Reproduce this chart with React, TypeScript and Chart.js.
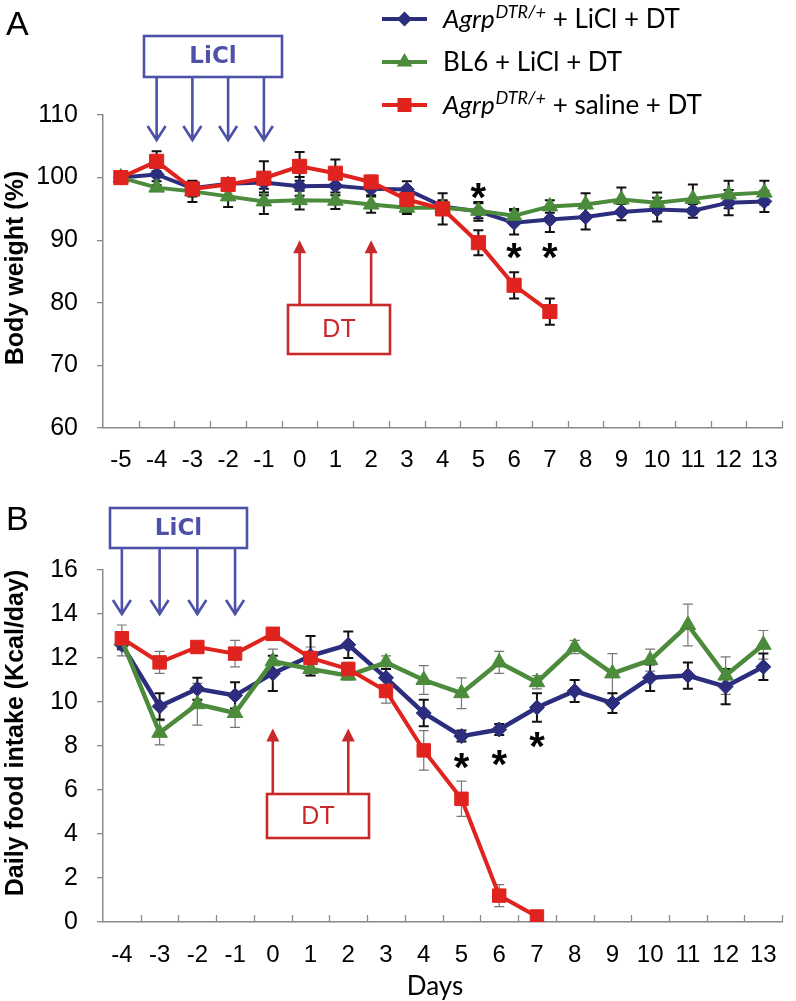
import React, { useEffect, useRef } from "react";
import { Chart, registerables } from "chart.js";

Chart.register(...registerables);

// ---------- Panel A: body weight ----------
const daysA = ["-5", "-4", "-3", "-2", "-1", "0", "1", "2", "3", "4", "5", "6", "7", "8", "9", "10", "11", "12", "13"];
const weightAgrpLiCl = [100, 100.5, 98.3, 99.0, 99.2, 98.6, 98.7, 98.2, 98.1, 95.4, 94.6, 92.8, 93.3, 93.7, 94.5, 94.9, 94.7, 96.0, 96.2];
const weightAgrpLiClErr = [0, 1.1, 1.0, 0.6, 1.6, 1.5, 1.5, 1.0, 1.3, 1.0, 1.5, 1.9, 2.0, 2.0, 1.3, 1.9, 1.1, 2.0, 1.7];
const weightBL6LiCl = [100, 98.4, 97.8, 97.0, 96.2, 96.4, 96.3, 95.7, 95.2, 95.2, 94.7, 93.9, 95.4, 95.7, 96.5, 96.0, 96.6, 97.3, 97.6];
const weightBL6LiClErr = [0, 0.4, 1.7, 1.7, 2.0, 1.5, 1.3, 1.3, 1.0, 1.0, 1.2, 1.1, 1.0, 1.8, 1.9, 1.6, 2.3, 2.2, 1.9];
const weightAgrpSaline = [100, 102.6, 98.2, 98.9, 99.9, 101.8, 100.7, 99.3, 96.5, 95.0, 89.6, 82.8, 78.6, null, null, null, null, null, null];
const weightAgrpSalineErr = [0, 1.6, 1.2, 0.4, 2.7, 2.3, 2.2, 1.0, 2.0, 2.5, 2.0, 2.1, 2.1, 0, 0, 0, 0, 0, 0];
const weightTicks = [60, 70, 80, 90, 100, 110];
const starsA = [{ day: "5", value: 98.4 }, { day: "6", value: 88.8 }, { day: "7", value: 88.8 }];

// ---------- Panel B: daily food intake ----------
const daysB = ["-4", "-3", "-2", "-1", "0", "1", "2", "3", "4", "5", "6", "7", "8", "9", "10", "11", "12", "13"];
const foodAgrpLiCl = [12.6, 9.8, 10.6, 10.3, 11.3, 12.1, 12.6, 11.1, 9.5, 8.45, 8.75, 9.75, 10.5, 9.95, 11.1, 11.2, 10.7, 11.6];
const foodAgrpLiClErr = [0.2, 0.6, 0.5, 0.6, 0.8, 0.9, 0.6, 0.4, 0.6, 0.25, 0.25, 0.65, 0.5, 0.45, 0.6, 0.6, 0.8, 0.6];
const foodBL6LiCl = [12.8, 8.6, 9.9, 9.5, 11.85, 11.5, 11.2, 11.8, 11.0, 10.4, 11.8, 10.9, 12.5, 11.3, 11.9, 13.5, 11.2, 12.6];
const foodBL6LiClErr = [0.7, 0.55, 0.95, 0.65, 0.55, 0.3, 0.2, 0.3, 0.65, 0.7, 0.5, 0.3, 0.3, 0.9, 0.5, 0.95, 0.85, 0.65];
const foodAgrpSaline = [12.9, 11.8, 12.5, 12.2, 13.1, 12.0, 11.5, 10.5, 7.8, 5.6, 1.2, 0.25, null, null, null, null, null, null];
const foodAgrpSalineErr = [0.3, 0.5, 0.2, 0.6, 0.2, 0.5, 0.3, 0.55, 0.9, 0.8, 0.5, 0.1, 0, 0, 0, 0, 0, 0];
const foodTicks = [0, 2, 4, 6, 8, 10, 12, 14, 16];
const starsB = [{ day: "5", value: 7.45 }, { day: "6", value: 7.6 }, { day: "7", value: 8.4 }];

// ---------- annotations ----------
const liclDays = ["-4", "-3", "-2", "-1"];
const dtDays = ["0", "2"];
const seriesLabels = ["Agrp|DTR/+| + LiCl + DT", "|| BL6 + LiCl + DT", "Agrp|DTR/+| + saline + DT"];

const AXIS = "#8a8a8a";
const NAVY = "#2c2e7d";
const GREEN = "#4b8b3b";
const RED = "#e0231e";
const LICL = "#4d51a8";
const DTRED = "#c8292b";
const TICK_FONT = "'Liberation Sans', Arial, sans-serif";
const LEG_FONT = "Lato, 'Open Sans', sans-serif";

function drawErrorBars(chart: any, cap: number) {
  const ctx = chart.ctx;
  const y = chart.scales.y;
  chart.data.datasets.forEach((d: any, i: number) => {
    if (!d.errors) return;
    const meta = chart.getDatasetMeta(i);
    ctx.save();
    ctx.strokeStyle = d.errColor;
    ctx.lineWidth = d.errWidth;
    meta.data.forEach((pt: any, j: number) => {
      const v = d.data[j];
      const e = d.errors[j];
      if (v == null || !e) return;
      const yt = y.getPixelForValue(v + e);
      const yb = y.getPixelForValue(v - e);
      ctx.beginPath();
      ctx.moveTo(pt.x, yt);
      ctx.lineTo(pt.x, yb);
      ctx.moveTo(pt.x - cap, yt);
      ctx.lineTo(pt.x + cap, yt);
      ctx.moveTo(pt.x - cap, yb);
      ctx.lineTo(pt.x + cap, yb);
      ctx.stroke();
    });
    ctx.restore();
  });
}

function drawXTicks(chart: any, len: number) {
  const x = chart.scales.x;
  const ctx = chart.ctx;
  const n = x.ticks.length;
  const w = (x.right - x.left) / n;
  ctx.save();
  ctx.strokeStyle = AXIS;
  ctx.lineWidth = 1.3;
  for (let k = 1; k <= n; k++) {
    const px = Math.round(x.getPixelForTick(k - 1) + w / 2) + 0.5;
    ctx.beginPath();
    ctx.moveTo(px, x.top);
    ctx.lineTo(px, x.top - len);
    ctx.stroke();
  }
  ctx.restore();
}

function arrowDownOpen(ctx: any, x: number, y0: number, y1: number, color: string) {
  ctx.save();
  ctx.strokeStyle = color;
  ctx.lineWidth = 2.6;
  ctx.beginPath();
  ctx.moveTo(x, y0);
  ctx.lineTo(x, y1);
  ctx.moveTo(x - 9, y1 - 14);
  ctx.lineTo(x, y1);
  ctx.lineTo(x + 9, y1 - 14);
  ctx.stroke();
  ctx.restore();
}

function arrowUpFilled(ctx: any, x: number, y0: number, y1: number, color: string) {
  ctx.save();
  ctx.strokeStyle = color;
  ctx.fillStyle = color;
  ctx.lineWidth = 2.6;
  ctx.beginPath();
  ctx.moveTo(x, y0);
  ctx.lineTo(x, y1 + 10);
  ctx.stroke();
  ctx.beginPath();
  ctx.moveTo(x, y1);
  ctx.lineTo(x - 6.5, y1 + 13);
  ctx.lineTo(x + 6.5, y1 + 13);
  ctx.closePath();
  ctx.fill();
  ctx.restore();
}

function drawBox(ctx: any, x: number, y: number, w: number, h: number, color: string, text: string, font: string) {
  ctx.save();
  ctx.strokeStyle = color;
  ctx.lineWidth = 2.6;
  ctx.strokeRect(x, y, w, h);
  ctx.fillStyle = color;
  ctx.font = font;
  ctx.textAlign = "center";
  ctx.textBaseline = "middle";
  ctx.fillText(text, x + w / 2, y + h / 2 + 1);
  ctx.restore();
}

function drawStars(chart: any, stars: { day: string; value: number }[], labels: string[]) {
  const ctx = chart.ctx;
  const x = chart.scales.x;
  const y = chart.scales.y;
  ctx.save();
  ctx.fillStyle = "#000";
  ctx.font = `bold 40px ${TICK_FONT}`;
  ctx.textAlign = "center";
  ctx.textBaseline = "alphabetic";
  stars.forEach((s) => {
    const px = x.getPixelForTick(labels.indexOf(s.day));
    const py = y.getPixelForValue(s.value);
    ctx.fillText("*", px, py + 23);
  });
  ctx.restore();
}

function drawYTitle(ctx: any, text: string, cx: number, cy: number) {
  ctx.save();
  ctx.translate(cx, cy);
  ctx.rotate(-Math.PI / 2);
  ctx.fillStyle = "#000";
  ctx.font = `bold 25px ${TICK_FONT}`;
  ctx.textAlign = "center";
  ctx.textBaseline = "middle";
  ctx.fillText(text, 0, 0);
  ctx.restore();
}

function drawMarker(ctx: any, kind: string, x: number, y: number, color: string) {
  ctx.save();
  ctx.fillStyle = color;
  ctx.beginPath();
  if (kind === "diamond") {
    const r = 7.5;
    ctx.moveTo(x, y - r);
    ctx.lineTo(x + r, y);
    ctx.lineTo(x, y + r);
    ctx.lineTo(x - r, y);
  } else if (kind === "triangle") {
    const r = 9;
    ctx.moveTo(x, y - r);
    ctx.lineTo(x + r * 0.866, y + r * 0.5);
    ctx.lineTo(x - r * 0.866, y + r * 0.5);
  } else {
    const s = 7;
    ctx.rect(x - s, y - s, 2 * s, 2 * s);
  }
  ctx.closePath();
  ctx.fill();
  ctx.restore();
}

function drawLegend(ctx: any) {
  const rows = [
    { y: 19, color: NAVY, kind: "diamond", label: seriesLabels[0] },
    { y: 62, color: GREEN, kind: "triangle", label: seriesLabels[1] },
    { y: 105, color: RED, kind: "square", label: seriesLabels[2] },
  ];
  rows.forEach((r) => {
    ctx.save();
    ctx.strokeStyle = r.color;
    ctx.lineWidth = 4;
    ctx.beginPath();
    ctx.moveTo(382, r.y);
    ctx.lineTo(427, r.y);
    ctx.stroke();
    ctx.restore();
    drawMarker(ctx, r.kind, 404.5, r.y, r.color);
    const [ital, sup, rest] = r.label.split("|");
    let tx = 443;
    const base = r.y + 9;
    ctx.save();
    ctx.fillStyle = "#000";
    ctx.textBaseline = "alphabetic";
    ctx.textAlign = "left";
    if (ital) {
      ctx.font = `italic 26px ${LEG_FONT}`;
      ctx.fillText(ital, tx, base);
      tx += ctx.measureText(ital).width + 1;
      ctx.font = `italic 18px ${LEG_FONT}`;
      ctx.fillText(sup, tx, base - 10);
      tx += ctx.measureText(sup).width;
      ctx.font = `26px ${LEG_FONT}`;
      ctx.fillText(rest, tx, base);
    } else {
      ctx.font = `26px ${LEG_FONT}`;
      ctx.fillText(rest.trim(), tx, base);
    }
    ctx.restore();
  });
}

function dataset(label: string, data: (number | null)[], errors: number[], color: string, style: string, radius: number, lw: number, errColor: string, errWidth: number) {
  return {
    label,
    data,
    errors,
    errColor,
    errWidth,
    borderColor: color,
    backgroundColor: color,
    pointStyle: style,
    pointRadius: radius,
    pointHoverRadius: radius,
    pointBackgroundColor: color,
    pointBorderColor: color,
    pointBorderWidth: 1,
    borderWidth: lw,
    tension: 0,
    spanGaps: false,
  } as any;
}

function axisOptions(labels: string[], tickValues: number[], min: number, max: number, xHeight: number, xPad: number) {
  return {
    x: {
      type: "category" as const,
      labels,
      offset: true,
      grid: { display: false, drawTicks: false },
      border: { display: true, color: AXIS, width: 1.5 },
      ticks: { color: "#000", font: { family: TICK_FONT, size: 24 }, padding: xPad, maxRotation: 0, autoSkip: false },
      afterFit: (s: any) => {
        s.height = xHeight;
      },
    },
    y: {
      min,
      max,
      grid: { drawOnChartArea: false, drawTicks: true, tickLength: 6, color: AXIS, lineWidth: 1.3 },
      border: { display: true, color: AXIS, width: 1.5 },
      ticks: { color: "#000", font: { family: TICK_FONT, size: 25 }, padding: 19 },
      afterBuildTicks: (s: any) => {
        s.ticks = tickValues.map((v) => ({ value: v }));
      },
      afterFit: (s: any) => {
        s.width = 103;
      },
    },
  };
}

export default function App() {
  const refA = useRef<HTMLCanvasElement>(null);
  const refB = useRef<HTMLCanvasElement>(null);

  useEffect(() => {
    const pluginA = {
      id: "annotA",
      beforeDatasetsDraw(chart: any) {
        drawXTicks(chart, 7);
        drawErrorBars(chart, 5);
      },
      afterDraw(chart: any) {
        const ctx = chart.ctx;
        const x = chart.scales.x;
        const y = chart.scales.y;
        ctx.save();
        ctx.fillStyle = "#000";
        ctx.font = `34px ${TICK_FONT}`;
        ctx.textBaseline = "alphabetic";
        ctx.fillText("A", 6, 35);
        ctx.restore();
        drawYTitle(ctx, "Body weight (%)", 16, 268);
        drawBox(ctx, 144, 36, 138, 41, LICL, "LiCl", `bold 23px 'DejaVu Sans', sans-serif`);
        liclDays.forEach((d) => arrowDownOpen(ctx, x.getPixelForTick(daysA.indexOf(d)), 77, y.getPixelForValue(106), LICL));
        drawBox(ctx, 288, 305, 102, 49, DTRED, "DT", `25px ${TICK_FONT}`);
        dtDays.forEach((d) => arrowUpFilled(ctx, x.getPixelForTick(daysA.indexOf(d)), 305, y.getPixelForValue(90), DTRED));
        drawStars(chart, starsA, daysA);
        drawLegend(ctx);
      },
    };

    const pluginB = {
      id: "annotB",
      beforeDatasetsDraw(chart: any) {
        drawXTicks(chart, 7);
        drawErrorBars(chart, 5);
      },
      afterDraw(chart: any) {
        const ctx = chart.ctx;
        const x = chart.scales.x;
        const y = chart.scales.y;
        ctx.save();
        ctx.fillStyle = "#000";
        ctx.font = `34px ${TICK_FONT}`;
        ctx.textBaseline = "alphabetic";
        ctx.fillText("B", 6, 40);
        ctx.font = `26px ${LEG_FONT}`;
        ctx.textAlign = "center";
        ctx.fillText("Days", 435, 505);
        ctx.restore();
        drawYTitle(ctx, "Daily food intake (Kcal/day)", 16, 243);
        drawBox(ctx, 110, 18, 137, 40, LICL, "LiCl", `bold 23px 'DejaVu Sans', sans-serif`);
        liclDays.forEach((d) => arrowDownOpen(ctx, x.getPixelForTick(daysB.indexOf(d)), 58, y.getPixelForValue(14), LICL));
        drawBox(ctx, 267, 304, 102, 44, DTRED, "DT", `25px ${TICK_FONT}`);
        dtDays.forEach((d) => arrowUpFilled(ctx, x.getPixelForTick(daysB.indexOf(d)), 304, y.getPixelForValue(8.8), DTRED));
        drawStars(chart, starsB, daysB);
      },
    };

    const chartA = new Chart(refA.current as HTMLCanvasElement, {
      type: "line",
      data: {
        labels: daysA,
        datasets: [
          dataset("Agrp DTR/+ + saline + DT", weightAgrpSaline, weightAgrpSalineErr, RED, "rect", 10, 4, "#111", 2),
          dataset("BL6 + LiCl + DT", weightBL6LiCl, weightBL6LiClErr, GREEN, "triangle", 9, 4, "#111", 2),
          dataset("Agrp DTR/+ + LiCl + DT", weightAgrpLiCl, weightAgrpLiClErr, NAVY, "rectRot", 7.5, 4, "#111", 2),
        ],
      },
      options: {
        responsive: false,
        animation: false,
        layout: { padding: { top: 115, left: 0, right: 4, bottom: 0 } },
        plugins: { legend: { display: false }, tooltip: { enabled: false } },
        scales: axisOptions(daysA, weightTicks, 60, 110, 62, 18) as any,
      },
      plugins: [pluginA],
    });

    const chartB = new Chart(refB.current as HTMLCanvasElement, {
      type: "line",
      data: {
        labels: daysB,
        datasets: [
          dataset("Agrp DTR/+ + saline + DT", foodAgrpSaline, foodAgrpSalineErr, RED, "rect", 9.5, 4, "#777", 1.2),
          dataset("BL6 + LiCl + DT", foodBL6LiCl, foodBL6LiClErr, GREEN, "triangle", 9, 4.5, "#777", 1.2),
          dataset("Agrp DTR/+ + LiCl + DT", foodAgrpLiCl, foodAgrpLiClErr, NAVY, "rectRot", 7.5, 4.5, "#111", 2),
        ],
      },
      options: {
        responsive: false,
        animation: false,
        layout: { padding: { top: 80, left: 0, right: 2, bottom: 0 } },
        plugins: { legend: { display: false }, tooltip: { enabled: false } },
        scales: axisOptions(daysB, foodTicks, 0, 16, 79, 19) as any,
      },
      plugins: [pluginB],
    });

    return () => {
      chartA.destroy();
      chartB.destroy();
    };
  }, []);

  return (
    <div style={{ position: "fixed", left: 0, top: 0, width: 796, height: 1001, background: "#fff" }}>
      <canvas ref={refA} width={796} height={490} style={{ position: "absolute", left: 0, top: 0 }} />
      <canvas ref={refB} width={796} height={511} style={{ position: "absolute", left: 0, top: 490 }} />
    </div>
  );
}
